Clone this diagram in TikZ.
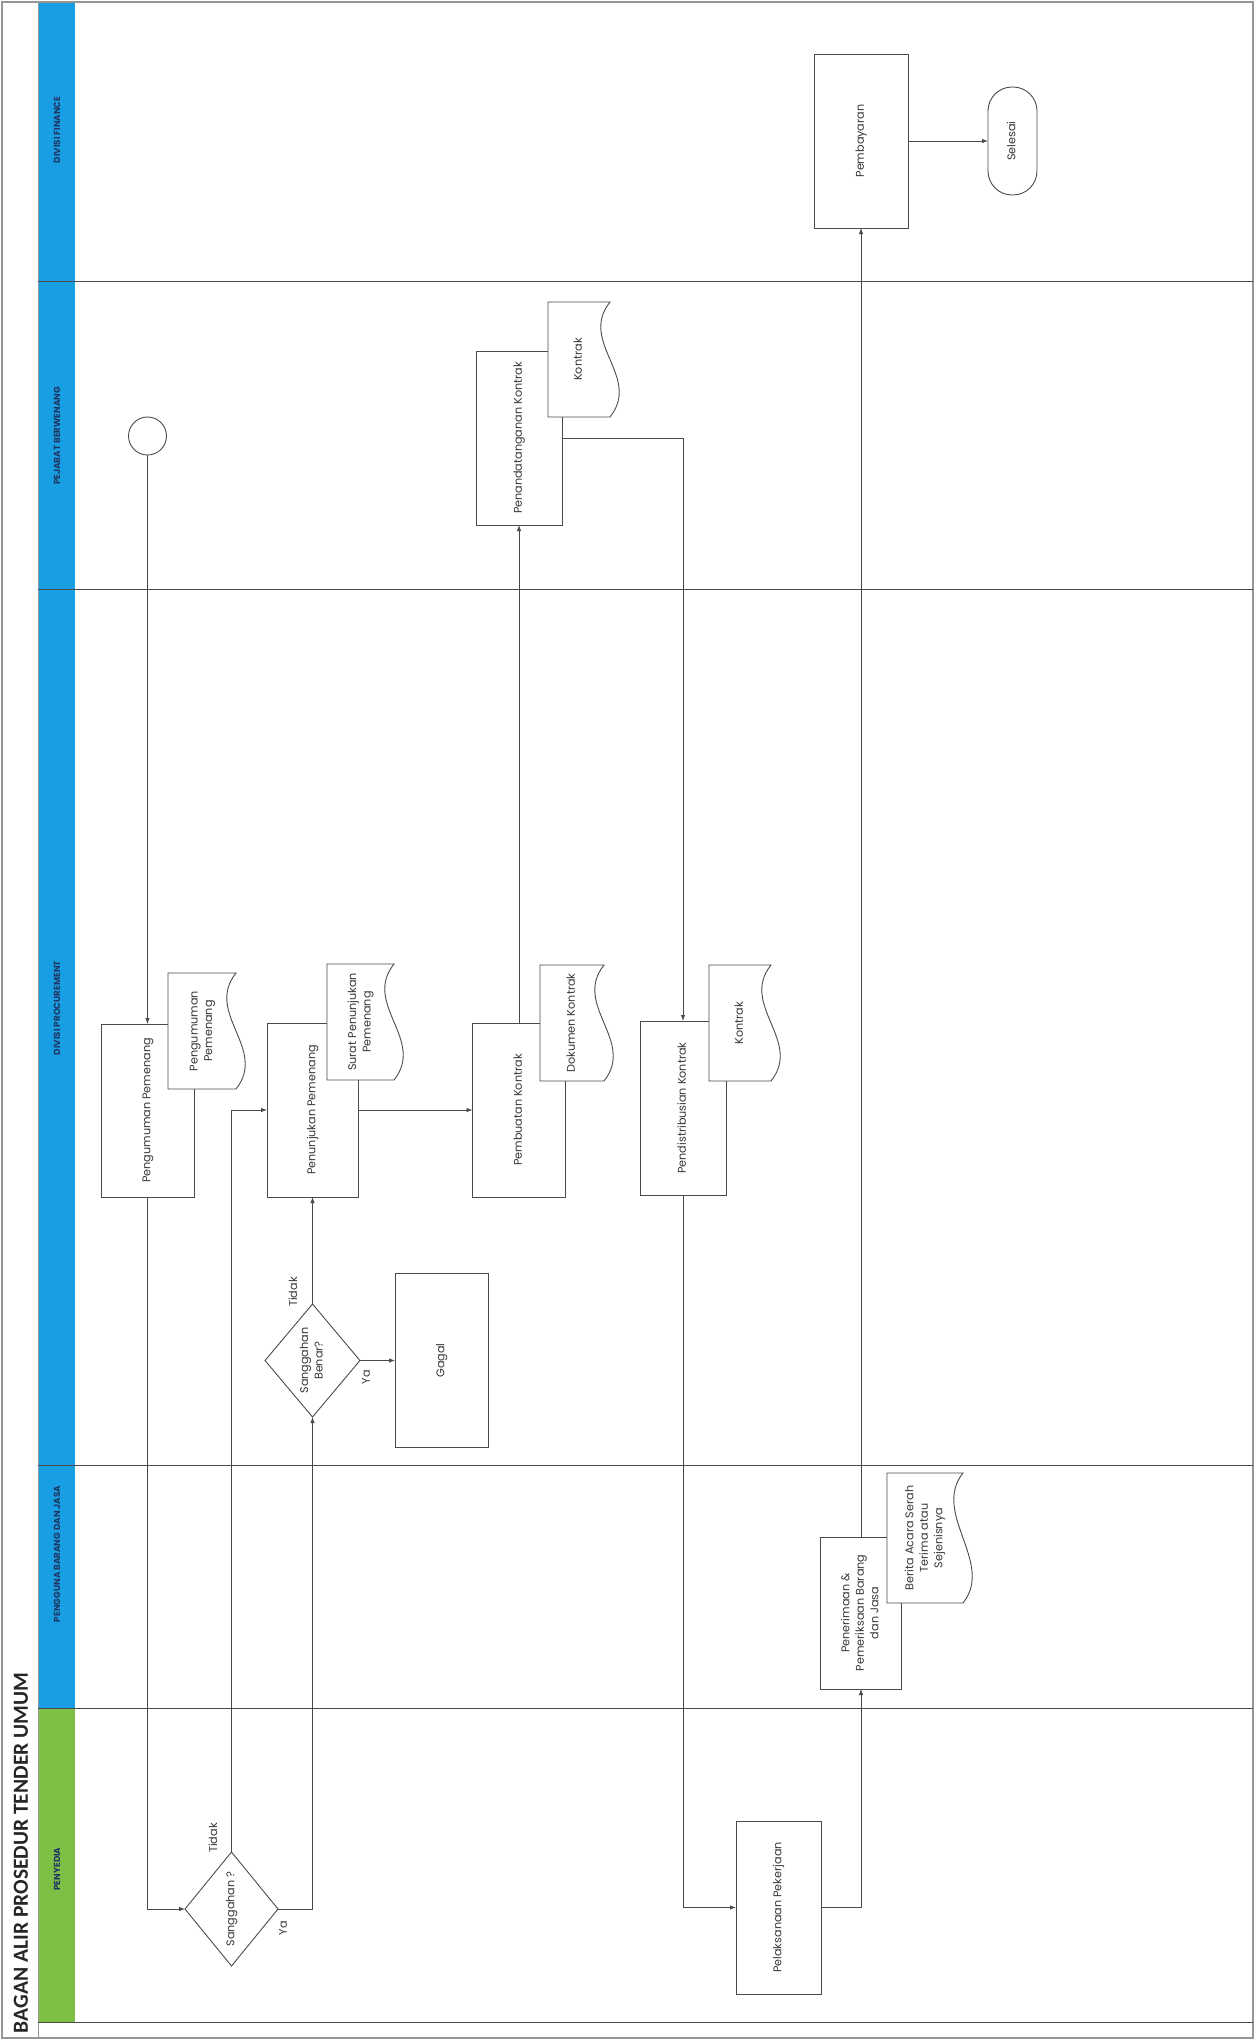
\documentclass[tikz,border=0pt]{standalone}
\usepackage{fontspec}
\usepackage{graphicx}
\setmainfont{Poppins}
\newfontfamily\titlefont{Carlito}
\usetikzlibrary{shapes.geometric,arrows.meta}
\definecolor{laneblue}{RGB}{24,158,226}
\definecolor{lanegreen}{RGB}{126,192,70}
\definecolor{hdrtext}{RGB}{30,55,100}
\definecolor{linec}{RGB}{75,75,75}
\definecolor{txtc}{RGB}{55,55,55}
\definecolor{framec}{RGB}{150,150,150}
\newcommand\rt[1]{\rotatebox{90}{\begin{tabular}{@{}c@{}}#1\end{tabular}}}
\newcommand\drawdoc[1]{\draw[docline] (#1.south east) -- (#1.south west) -- (#1.north west) -- (#1.north east) .. controls +(-32,40) and +(32,-40) .. (#1.south east);}
\tikzset{
  every node/.style={inner sep=0pt, outer sep=0pt},
  txt/.style={font=\fontsize{11.2}{14.5}\selectfont, text=txtc},
  box/.style={txt, rectangle, draw=linec, line width=0.9pt, fill=white},
  docbox/.style={txt, rectangle, fill=white},
  docline/.style={draw=linec, line width=0.9pt},
  decision/.style={txt, diamond, draw=linec, line width=0.9pt, fill=white},
  terminal/.style={txt, rectangle, rounded corners=24pt, draw=linec, line width=0.9pt, fill=white},
  startc/.style={circle, draw=linec, line width=0.9pt, fill=white, minimum size=38pt},
  flow/.style={draw=linec, line width=0.8pt, -{Latex[length=6pt,width=4.5pt]}},
  laneline/.style={draw=linec, line width=0.9pt},
  hdr/.style={font=\bfseries\fontsize{8.8}{10}\selectfont, text=hdrtext, rotate=90},
  lbl/.style={txt, rotate=90},
}
\begin{document}
\begin{tikzpicture}[x=1pt, y=-1pt]
\useasboundingbox (0,0) rectangle (1255,2040);
% frame and lanes
\fill[laneblue] (38,3) rectangle (75,1708);
\fill[lanegreen] (38,1708) rectangle (75,2022);
\draw[framec, line width=1.2pt] (2,2) rectangle (1253,2038);
\draw[framec, line width=1pt] (38,2) -- (38,2038);
\draw[laneline] (38,281) -- (1253,281);
\draw[laneline] (38,589) -- (1253,589);
\draw[laneline] (38,1465) -- (1253,1465);
\draw[laneline] (38,1708) -- (1253,1708);
\draw[laneline] (38,2022) -- (1253,2022);
% title and headers
\node[rotate=90, anchor=west, font=\titlefont\bfseries\fontsize{21.5}{24}\selectfont, text=black!85] (title) at (21,2033) {BAGAN ALIR PROSEDUR TENDER UMUM};
\node[hdr] (hfin) at (57,130) {DIVISI FINANCE};
\node[hdr] (hpej) at (57,436) {PEJABAT BERWENANG};
\node[hdr] (hpro) at (57,1008) {DIVISI PROCUREMENT};
\node[hdr] (hpen) at (57,1554) {PENGGUNA BARANG DAN JASA};
\node[hdr] (hpny) at (57,1869) {PENYEDIA};
% nodes
\node[startc] (st) at (147.5,436) {};
\node[box, minimum width=93, minimum height=173] (pp) at (147.5,1110.5) {\rt{Pengumuman Pemenang}};
\node[docbox, minimum width=68, minimum height=116] (dpp) at (202,1031) {\rt{Pengumuman\\Pemenang}};
\drawdoc{dpp}
\node[box, minimum width=91, minimum height=174] (pn) at (312.5,1110) {\rt{Penunjukan Pemenang}};
\node[docbox, minimum width=67, minimum height=116] (dsp) at (360.5,1022) {\rt{Surat Penunjukan\\Pemenang}};
\drawdoc{dsp}
\node[box, minimum width=93, minimum height=174] (pk) at (519,1110) {\rt{Pembuatan Kontrak}};
\node[docbox, minimum width=64, minimum height=116] (ddk) at (572,1023) {\rt{Dokumen Kontrak}};
\drawdoc{ddk}
\node[box, minimum width=86, minimum height=174] (pd) at (683,1108) {\rt{Pendistribusian Kontrak}};
\node[docbox, minimum width=62, minimum height=116] (dk2) at (740,1023) {\rt{Kontrak}};
\drawdoc{dk2}
\node[decision, minimum width=91, minimum height=113] (sb) at (312.5,1360.5) {\rt{Sanggahan\\Benar?}};
\node[box, minimum width=93, minimum height=174] (gagal) at (441.5,1360.5) {\rt{Gagal}};
\node[box, minimum width=86, minimum height=174] (ptk) at (519,438) {\rt{Penandatanganan Kontrak}};
\node[docbox, minimum width=62, minimum height=115] (dk1) at (579,359.5) {\rt{Kontrak}};
\drawdoc{dk1}
\node[box, minimum width=94, minimum height=174] (pb) at (861,141) {\rt{Pembayaran}};
\node[terminal, minimum width=49, minimum height=108] (sel) at (1012.5,141) {\rt{Selesai}};
\node[box, minimum width=81, minimum height=152] (pr) at (861,1613) {\rt{Penerimaan \&\\Pemeriksaan Barang\\dan Jasa}};
\node[docbox, minimum width=76, minimum height=130] (dba) at (925,1538) {\rt{Berita Acara Serah\\Terima atau\\Sejenisnya}};
\drawdoc{dba}
\node[decision, minimum width=93, minimum height=114] (sq) at (231.5,1909) {\rt{Sanggahan ?}};
\node[box, minimum width=85, minimum height=173] (pl) at (778.5,1907.5) {\rt{Pelaksanaan Pekerjaan}};
% labels
\node[lbl] (lsqt) at (213,1838) {Tidak};
\node[lbl] (lsqy) at (283,1928) {Ya};
\node[lbl] (lsbt) at (293,1292) {Tidak};
\node[lbl] (lsby) at (366,1377) {Ya};
% connectors
\draw[flow] (st.south) -- (pp.north);
\draw[flow] (pp.south) |- (sq.west);
\draw[flow] (sq.north) |- (pn.west);
\draw[flow] (sq.east) -| (sb.south);
\draw[flow] (sb.north) -- (pn.south);
\draw[flow] (sb.east) -- (gagal.west);
\draw[flow] (pn.east) -- (pk.west);
\draw[flow] (pk.north) -- (ptk.south);
\draw[flow] (ptk.east) -| (pd.north);
\draw[flow] (pd.south) |- (pl.west);
\draw[flow] (pl.east) -| (pr.south);
\draw[flow] (pr.north) -- (pb.south);
\draw[flow] (pb.east) -- (sel.west);
\end{tikzpicture}
\end{document}
